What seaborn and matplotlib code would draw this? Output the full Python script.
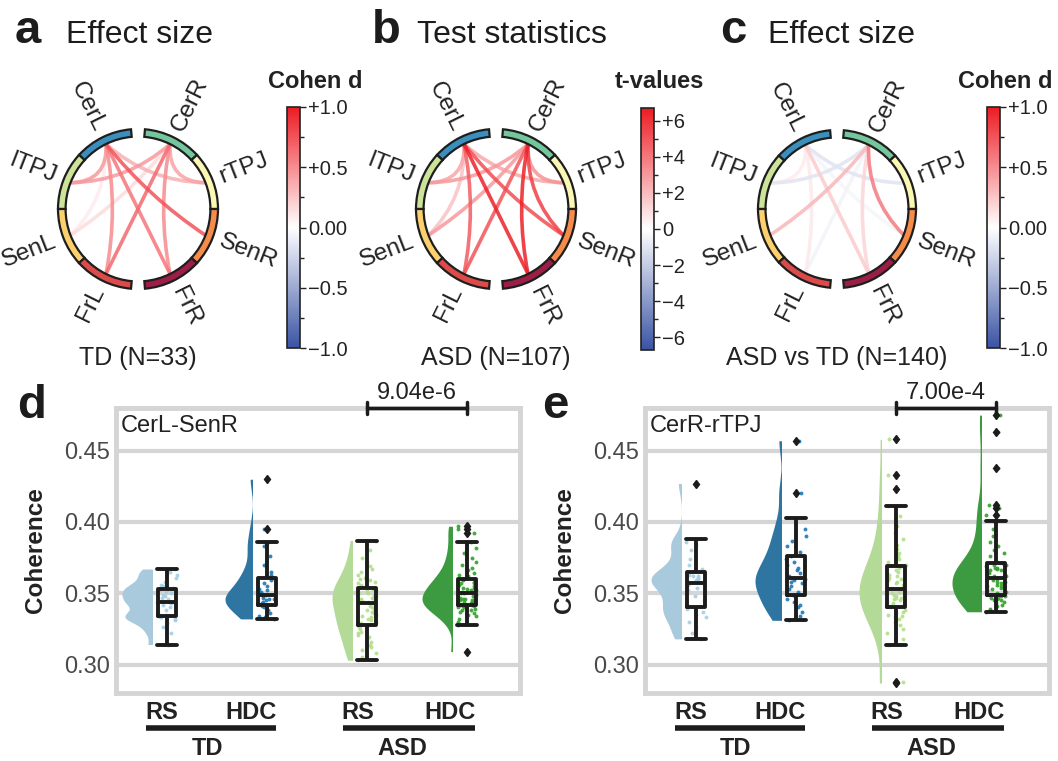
import numpy as np
import pandas as pd
import matplotlib
matplotlib.use('Agg')
import matplotlib.pyplot as plt
import seaborn as sns
from matplotlib.patches import Wedge, PathPatch, Rectangle
from matplotlib.path import Path
from matplotlib.colors import LinearSegmentedColormap, Normalize
from matplotlib.cm import ScalarMappable
import matplotlib.transforms as mtransforms

sns.set_theme(style='white')
plt.rcParams['font.family'] = ['Liberation Sans', 'DejaVu Sans']
np.random.seed(3)

W, H = 1058, 761

# ---- circle regions (right side top->bottom, left side top->bottom)
regions = ['CerR', 'rTPJ', 'SenR', 'FrR', 'CerL', 'lTPJ', 'SenL', 'FrL']
region_colors = ['#74c69d', '#fbf8b4', '#f68c4a', '#9c1d45',
                 '#3a8fbd', '#cde39a', '#fdd06e', '#dc4a4a']

# ---- connections (region, region, value)
edges_td = [('CerL', 'lTPJ', 0.45), ('CerL', 'rTPJ', 0.35), ('CerL', 'SenR', 0.75),
            ('CerL', 'FrL', 0.5), ('CerL', 'FrR', 0.6), ('CerL', 'SenL', 0.08),
            ('CerR', 'lTPJ', 0.45), ('CerR', 'rTPJ', 0.4), ('CerR', 'SenL', 0.15),
            ('CerR', 'FrL', 0.65), ('CerR', 'FrR', 0.5)]
edges_asd = [('CerL', 'lTPJ', 2.6), ('CerL', 'rTPJ', 2.6), ('CerL', 'SenR', 5.2),
             ('CerL', 'FrL', 4.8), ('CerL', 'FrR', 6.5), ('CerL', 'SenL', 1.8),
             ('CerR', 'lTPJ', 3.0), ('CerR', 'rTPJ', 3.2), ('CerR', 'SenL', 3.0),
             ('CerR', 'FrL', 5.0), ('CerR', 'FrR', 6.5), ('CerR', 'SenR', 5.6)]
edges_diff = [('CerL', 'lTPJ', 0.08), ('CerL', 'rTPJ', -0.15), ('CerL', 'SenR', -0.05),
              ('CerL', 'FrL', 0.1), ('CerL', 'FrR', 0.22), ('CerR', 'lTPJ', -0.15),
              ('CerR', 'SenL', 0.32), ('CerR', 'SenR', 0.58), ('CerR', 'FrL', -0.07),
              ('CerR', 'FrR', 0.18)]

# ---- coherence values (CerL-SenR)
d_td_rs = [0.314, 0.322, 0.326, 0.329, 0.331, 0.332, 0.333, 0.333, 0.334, 0.335, 0.336,
           0.338, 0.340, 0.342, 0.343, 0.344, 0.344, 0.346, 0.347, 0.348, 0.349, 0.350,
           0.351, 0.352, 0.353, 0.354, 0.355, 0.356, 0.358, 0.361, 0.363, 0.365, 0.367]
d_td_hdc = [0.332, 0.333, 0.334, 0.336, 0.338, 0.340, 0.341, 0.342, 0.342, 0.343, 0.344,
            0.345, 0.346, 0.346, 0.347, 0.348, 0.349, 0.350, 0.351, 0.352, 0.353, 0.355,
            0.357, 0.359, 0.361, 0.363, 0.365, 0.370, 0.376, 0.383, 0.386, 0.395, 0.430]
d_asd_rs = [0.303, 0.305, 0.308, 0.310, 0.312, 0.314, 0.316, 0.318, 0.319, 0.321, 0.322,
            0.323, 0.325, 0.326, 0.327, 0.328, 0.329, 0.330, 0.331, 0.332, 0.333, 0.334,
            0.335, 0.336, 0.337, 0.338, 0.339, 0.340, 0.341, 0.342, 0.343, 0.344, 0.344,
            0.345, 0.346, 0.347, 0.347, 0.348, 0.349, 0.350, 0.350, 0.351, 0.352, 0.352,
            0.353, 0.354, 0.355, 0.356, 0.357, 0.358, 0.359, 0.360, 0.361, 0.363, 0.365,
            0.367, 0.369, 0.372, 0.375, 0.380, 0.387]
d_asd_hdc = [0.309, 0.328, 0.330, 0.332, 0.334, 0.335, 0.336, 0.337, 0.338, 0.338, 0.339,
             0.340, 0.340, 0.341, 0.341, 0.342, 0.342, 0.343, 0.343, 0.344, 0.344, 0.345,
             0.345, 0.346, 0.346, 0.347, 0.347, 0.348, 0.348, 0.349, 0.350, 0.350, 0.351,
             0.351, 0.352, 0.352, 0.353, 0.354, 0.354, 0.355, 0.356, 0.357, 0.357, 0.358,
             0.359, 0.360, 0.361, 0.362, 0.363, 0.364, 0.366, 0.368, 0.370, 0.372, 0.375,
             0.378, 0.382, 0.386, 0.392, 0.395, 0.397]

# ---- coherence values (CerR-rTPJ)
e_td_rs = [0.318, 0.322, 0.326, 0.330, 0.333, 0.335, 0.337, 0.339, 0.340, 0.342, 0.345,
           0.348, 0.350, 0.352, 0.354, 0.356, 0.357, 0.358, 0.359, 0.360, 0.361, 0.362,
           0.362, 0.363, 0.365, 0.367, 0.370, 0.374, 0.380, 0.384, 0.386, 0.388, 0.427]
e_td_hdc = [0.331, 0.334, 0.337, 0.340, 0.342, 0.344, 0.346, 0.348, 0.349, 0.351, 0.353,
            0.355, 0.357, 0.358, 0.359, 0.360, 0.361, 0.362, 0.364, 0.366, 0.368, 0.370,
            0.372, 0.374, 0.376, 0.379, 0.383, 0.387, 0.390, 0.395, 0.403, 0.420, 0.457]
e_asd_rs = [0.287, 0.288, 0.314, 0.318, 0.322, 0.325, 0.328, 0.330, 0.332, 0.333, 0.334,
            0.335, 0.336, 0.337, 0.338, 0.340, 0.341, 0.342, 0.343, 0.344, 0.345, 0.346,
            0.347, 0.347, 0.348, 0.349, 0.350, 0.350, 0.351, 0.352, 0.353, 0.354, 0.355,
            0.356, 0.357, 0.358, 0.359, 0.360, 0.361, 0.362, 0.363, 0.364, 0.365, 0.366,
            0.368, 0.369, 0.370, 0.372, 0.374, 0.376, 0.378, 0.381, 0.384, 0.388, 0.392,
            0.397, 0.404, 0.411, 0.423, 0.433, 0.458]
e_asd_hdc = [0.337, 0.338, 0.339, 0.340, 0.341, 0.342, 0.343, 0.344, 0.345, 0.345, 0.346,
             0.347, 0.347, 0.348, 0.348, 0.349, 0.350, 0.351, 0.352, 0.353, 0.354, 0.355,
             0.355, 0.356, 0.357, 0.358, 0.358, 0.359, 0.360, 0.360, 0.361, 0.362, 0.362,
             0.363, 0.364, 0.364, 0.365, 0.366, 0.366, 0.367, 0.368, 0.368, 0.369, 0.370,
             0.370, 0.371, 0.372, 0.376, 0.378, 0.380, 0.383, 0.386, 0.390, 0.395, 0.401,
             0.405, 0.410, 0.412, 0.438, 0.463, 0.475]

group_ticks = ['RS', 'HDC', 'RS', 'HDC']
violin_colors = ['#a8cadc', '#2e75a2', '#b4da98', '#3c9a40']
dot_colors = ['#a6cee3', '#1f78b4', '#b2df8a', '#33a02c']
bw_adjust = [0.55, 0.6, 0.9, 0.8]

cmap = LinearSegmentedColormap.from_list('bwr_soft', ['#3a54a4', '#ffffff', '#ed1c24'])


def fig_xy(px, py):
    return px / W, 1 - py / H


def seg_angles(name):
    i = regions.index(name)
    if i < 4:
        t2 = 85 - 42.5 * i
        return t2 - 42.5, t2
    j = i - 4
    t1 = 95 + 42.5 * j
    return t1, t1 + 42.5


def mid_angle(name):
    a, b = seg_angles(name)
    return np.deg2rad((a + b) / 2)


def chord_panel(cx, cy, rpx, edges, norm, caption):
    half = 1.45 * rpx
    l, b = fig_xy(cx - half, cy + half)
    ax = fig.add_axes([l, b, 2 * half / W, 2 * half / H])
    ax.set_xlim(-1.45, 1.45)
    ax.set_ylim(-1.45, 1.45)
    ax.axis('off')
    r_in = 0.905
    for a, bnode, v in sorted(edges, key=lambda e: abs(e[2])):
        t1, t2 = mid_angle(a), mid_angle(bnode)
        p1 = r_in * np.array([np.cos(t1), np.sin(t1)])
        p2 = r_in * np.array([np.cos(t2), np.sin(t2)])
        c = 0.6 * (p1 + p2) / 2
        path = Path([p1, c, p2], [Path.MOVETO, Path.CURVE3, Path.CURVE3])
        ax.add_patch(PathPatch(path, fc='none', ec=cmap(norm(v)), lw=2.6,
                               alpha=0.85, capstyle='butt'))
    for name, col in zip(regions, region_colors):
        t1, t2 = seg_angles(name)
        ax.add_patch(Wedge((0, 0), 1.0, t1, t2, width=0.095, fc=col,
                           ec='#1e1e1e', lw=1.6))
        m = mid_angle(name)
        deg = np.rad2deg(m)
        x, y = 1.1 * np.cos(m), 1.1 * np.sin(m)
        if np.cos(m) > 0:
            ax.text(x, y, name, rotation=deg, ha='left', va='center',
                    rotation_mode='anchor', fontsize=17.5, color='#222222')
        else:
            ax.text(x, y, name, rotation=deg - 180, ha='right', va='center',
                    rotation_mode='anchor', fontsize=17.5, color='#222222')
    ax.text(0, -(358 - cy) / rpx, caption, ha='center', va='center',
            fontsize=18, color='#222222')
    return ax


def add_cbar(px_left, px_top, px_bottom, norm, ticks, labels, minor, title, title_x):
    l, b = fig_xy(px_left, px_bottom)
    cax = fig.add_axes([l, b, 13 / W, (px_bottom - px_top) / H])
    cb = fig.colorbar(ScalarMappable(norm=norm, cmap=cmap), cax=cax)
    cb.set_ticks(ticks)
    cb.set_ticklabels(labels)
    cax.set_yticks(minor, minor=True)
    cax.tick_params(which='major', length=4, width=1, color='#222222',
                    labelsize=14.5, labelcolor='#222222', pad=2)
    cax.tick_params(which='minor', length=3, width=1, color='#222222')
    cb.outline.set_edgecolor('#222222')
    cb.outline.set_linewidth(1.2)
    fig.text(*fig_xy(title_x, 88), title, fontsize=17, fontweight='bold',
             color='#222222', va='baseline', ha='left')


def rain_panel(ax, groups, vwidths, pair_label, ptext):
    for i, vals in enumerate(groups):
        p = i - 0.15
        vdf = pd.DataFrame({'pos': p, 'coh': vals})
        n0 = len(ax.collections)
        sns.violinplot(data=vdf, x='pos', y='coh', native_scale=True,
                       inner=None, cut=0, width=vwidths[i], color=violin_colors[i],
                       saturation=1, linewidth=0, bw_adjust=bw_adjust[i], ax=ax)
        # keep only the left half of each violin
        for coll in ax.collections[n0:]:
            coll.set_clip_path(Rectangle((p - 1, 0), 1, 1, transform=ax.transData))
        bdf = pd.DataFrame({'pos': float(i), 'coh': vals})
        sns.stripplot(data=bdf, x='pos', y='coh', native_scale=True, jitter=0.1,
                      size=2.8, color=dot_colors[i], alpha=0.9, ax=ax, zorder=1.5)
        sns.boxplot(data=bdf, x='pos', y='coh', native_scale=True, width=0.18,
                    fill=False, color='#1c1c1c', linewidth=2.8, capwidths=0.2,
                    flierprops=dict(marker='d', markersize=4.5,
                                    markerfacecolor='#1c1c1c',
                                    markeredgecolor='#1c1c1c'),
                    ax=ax)
    ax.set_xlim(-0.51, 3.53)
    ax.set_ylim(0.28, 0.48)
    ax.set_xticks([])
    ax.set_xlabel('')
    ax.set_yticks([0.30, 0.35, 0.40, 0.45])
    ax.set_yticklabels(['0.30', '0.35', '0.40', '0.45'])
    ax.tick_params(axis='y', length=0, labelsize=17, labelcolor='#4a4a4a', pad=4)
    ax.yaxis.grid(True, color='#d5d5d5', lw=3)
    ax.set_axisbelow(True)
    for s in ax.spines.values():
        s.set_color('#d5d5d5')
        s.set_linewidth(3.5)
    ax.set_ylabel('Coherence', fontsize=17.5, fontweight='bold', color='#222222')
    ax.yaxis.set_label_coords(-0.17, 0.5)
    ax.text(0.012, 0.975, pair_label, transform=ax.transAxes, ha='left', va='top',
            fontsize=17, color='#222222')
    trans = mtransforms.blended_transform_factory(ax.transData, ax.transAxes)
    for xpos, lab in zip([-0.05, 0.84, 1.91, 2.83], group_ticks):
        ax.text(xpos, -0.067, lab, transform=trans, ha='center', va='center',
                fontsize=17, fontweight='bold', color='#222222')
    for x0, x1, xt, lab in [(-0.21, 1.09, 0.40, 'TD'), (1.76, 3.08, 2.35, 'ASD')]:
        ax.plot([x0, x1], [-0.123, -0.123], transform=trans, color='#1c1c1c',
                lw=4, clip_on=False, solid_capstyle='butt')
        ax.text(xt, -0.195, lab, transform=trans, ha='center', va='center',
                fontsize=17, fontweight='bold', color='#222222')
    # significance bracket
    ax.plot([2, 3], [1.0, 1.0], transform=trans, color='#1c1c1c', lw=2.5,
            clip_on=False, zorder=6)
    for xb in [2, 3]:
        ax.plot([xb, xb], [0.98, 1.02], transform=trans, color='#1c1c1c', lw=2.5,
                clip_on=False, zorder=6)
    ax.text(2.5, 1.015, ptext, transform=trans, ha='center', va='bottom',
            fontsize=17, color='#222222')


fig = plt.figure(figsize=(W / 100, H / 100), dpi=100)

norm_d = Normalize(-1, 1)
norm_t = Normalize(-6.7, 6.7)

chord_panel(138, 209, 80, edges_td, norm_d, 'TD (N=33)')
chord_panel(496, 209, 80, edges_asd, norm_t, 'ASD (N=107)')
chord_panel(837, 209, 79, edges_diff, norm_d, 'ASD vs TD (N=140)')

d_ticks = [-1, -0.5, 0, 0.5, 1]
d_labels = ['\u22121.0', '\u22120.5', '0.00', '+0.5', '+1.0']
d_minor = [-0.75, -0.25, 0.25, 0.75]
add_cbar(287, 107, 348, norm_d, d_ticks, d_labels, d_minor, 'Cohen d', 268)
add_cbar(641, 108, 350, norm_t, [-6, -4, -2, 0, 2, 4, 6],
         ['\u22126', '\u22124', '\u22122', '0', '+2', '+4', '+6'],
         [-5, -3, -1, 1, 3, 5], 't-values', 615)
add_cbar(987, 107, 348, norm_d, d_ticks, d_labels, d_minor, 'Cohen d', 958)

# panel letters and titles
for px, letter, tx, title in [(15, 'a', 66, 'Effect size'), (372, 'b', 417, 'Test statistics'),
                              (720, 'c', 768, 'Effect size')]:
    fig.text(*fig_xy(px, 43), letter, fontsize=34, fontweight='bold', va='baseline',
             color='#1c1c1c')
    fig.text(*fig_xy(tx, 43), title, fontsize=23, va='baseline', color='#1c1c1c')

ax_d = fig.add_axes([116 / W, 1 - 693 / H, 404 / W, 285 / H])
ax_e = fig.add_axes([645 / W, 1 - 693 / H, 404 / W, 285 / H])
rain_panel(ax_d, [d_td_rs, d_td_hdc, d_asd_rs, d_asd_hdc], [0.60, 0.54, 0.40, 0.60],
           'CerL-SenR', '9.04e-6')
rain_panel(ax_e, [e_td_rs, e_td_hdc, e_asd_rs, e_asd_hdc], [0.60, 0.52, 0.44, 0.58],
           'CerR-rTPJ', '7.00e-4')
fig.text(*fig_xy(17, 418), 'd', fontsize=34, fontweight='bold', va='baseline',
         color='#1c1c1c')
fig.text(*fig_xy(542, 418), 'e', fontsize=34, fontweight='bold', va='baseline',
         color='#1c1c1c')

fig.savefig('out.png', dpi=100)
